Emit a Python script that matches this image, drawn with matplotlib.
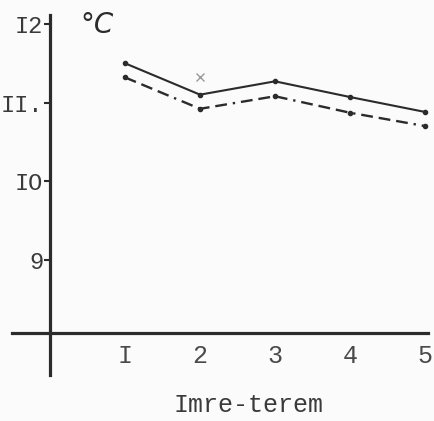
import numpy as np
import matplotlib.pyplot as plt

# room temperature readings, two series
days = [1, 2, 3, 4, 5]
temp_solid = [11.50, 11.10, 11.27, 11.07, 10.88]
temp_dashed = [11.32, 10.92, 11.08, 10.87, 10.70]
extra_x = [2]
extra_y = [11.32]

yticks = [9, 10, 11, 12]
ytick_labels = ['9', 'IO', 'II.', 'I2']
xticks = [1, 2, 3, 4, 5]
xtick_labels = ['I', '2', '3', '4', '5']

ink = '#2b2b2b'
mono = ['Liberation Mono', 'DejaVu Sans Mono']

fig = plt.figure(figsize=(4.34, 4.21), dpi=100, facecolor='#fbfbfb')
ax = fig.add_axes([0, 0, 1, 1], facecolor='#fbfbfb')
ax.set_xlim(-0.667, 5.12)
ax.set_ylim(6.943, 12.306)

ax.plot(days, temp_solid, color=ink, lw=1.5, marker='o', ms=3)
ax.plot(days, temp_dashed, color=ink, lw=1.7, marker='o', ms=3,
        ls=(0, (5, 2.5, 5, 2.5, 5, 2.5, 1, 2.5)))
ax.plot(extra_x, extra_y, marker='x', ms=6, color='#9a9a9a', ls='none', mew=1)

# axes crossing at the origin
for s in ['top', 'right']:
    ax.spines[s].set_visible(False)
ax.spines['left'].set_position(('data', 0))
ax.spines['bottom'].set_position(('data', 8.06))
ax.spines['left'].set_bounds(7.53, 12.11)
ax.spines['bottom'].set_bounds(-0.507, 5.04)
for s in ['left', 'bottom']:
    ax.spines[s].set_linewidth(2.3)
    ax.spines[s].set_color(ink)

ax.set_yticks(yticks)
ax.set_yticklabels(ytick_labels, family=mono, fontsize=17, color='#3a3a3a')
ax.set_xticks(xticks)
ax.set_xticklabels(xtick_labels, family=mono, fontsize=18, color='#4a4a4a')
ax.tick_params(axis='y', direction='out', length=4, width=1.5, color=ink, pad=1)
ax.tick_params(axis='x', direction='out', length=0, pad=8)

ax.text(0.63, 11.99, '°C', fontsize=20, style='italic', color=ink,
        ha='center', va='center', family='DejaVu Sans')
ax.text(2.65, 7.15, 'Imre-terem', family=mono, fontsize=18, color='#3a3a3a',
        ha='center', va='center')

fig.savefig('out.png', dpi=100, facecolor=fig.get_facecolor())
